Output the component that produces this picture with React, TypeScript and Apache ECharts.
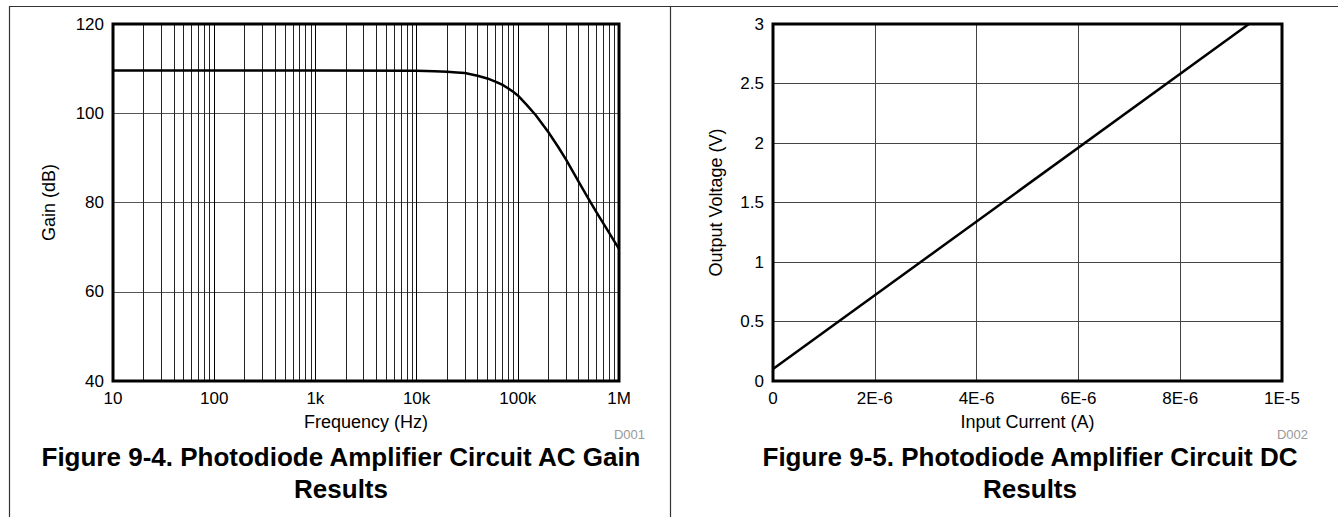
import React, { useEffect, useRef } from "react";
import * as echarts from "echarts";

// AC gain (Figure 9-4)
const freqHz = [10, 100, 1000, 10000, 15000, 20000, 25000, 30000, 40000, 50000, 60000, 70000, 80000, 90000, 100000, 120000, 150000, 200000, 250000, 300000, 400000, 500000, 600000, 700000, 800000, 900000, 1000000];
const gainDb = [109.6, 109.6, 109.6, 109.5, 109.4, 109.3, 109.15, 109.0, 108.4, 107.8, 107.1, 106.4, 105.6, 104.8, 104.0, 102.1, 99.6, 95.8, 92.5, 89.6, 84.6, 80.8, 77.8, 75.3, 73.2, 71.3, 69.6];
const freqTickLabels: Record<string, string> = { "10": "10", "100": "100", "1000": "1k", "10000": "10k", "100000": "100k", "1000000": "1M" };

// DC transfer (Figure 9-5)
const inputCurrentA = [0, 9.35e-6];
const outputVoltageV = [0.1, 3.0];
const currentTickLabels = ["0", "2E-6", "4E-6", "6E-6", "8E-6", "1E-5"];

const captionLeft = ["Figure 9-4. Photodiode Amplifier Circuit AC Gain", "Results"];
const captionRight = ["Figure 9-5. Photodiode Amplifier Circuit DC", "Results"];

const FONT = "'Liberation Sans', Arial, Helvetica, sans-serif";

export default function App() {
  const ref = useRef<HTMLDivElement>(null);

  useEffect(() => {
    document.body.style.margin = "0";
    const chart = echarts.init(ref.current!, null, { renderer: "svg" });

    const minorGridHz: number[] = [];
    for (let d = 10; d < 1000000; d *= 10) {
      for (let m = 2; m <= 9; m++) minorGridHz.push(d * m);
    }

    const axisLabelStyle = { color: "#000", fontSize: 17, fontFamily: FONT };
    const nameStyle = { color: "#000", fontSize: 18, fontFamily: FONT };

    chart.setOption({
      animation: false,
      backgroundColor: "#fff",
      textStyle: { fontFamily: FONT },
      grid: [
        { left: 113, top: 24, width: 506, height: 357, show: true, borderColor: "#000", borderWidth: 3, backgroundColor: "transparent", z: 10 },
        { left: 773, top: 24, width: 509, height: 357, show: true, borderColor: "#000", borderWidth: 3, backgroundColor: "transparent", z: 10 },
      ],
      xAxis: [
        {
          gridIndex: 0,
          type: "log",
          logBase: 10,
          min: 10,
          max: 1000000,
          name: "Frequency (Hz)",
          nameLocation: "middle",
          nameGap: 32,
          nameTextStyle: nameStyle,
          axisLine: { show: false },
          axisTick: { show: false },
          axisLabel: { ...axisLabelStyle, margin: 9, formatter: (v: number) => freqTickLabels[String(Math.round(v))] ?? "" },
          splitLine: { show: true, lineStyle: { color: "#000", width: 1 } },
        },
        {
          gridIndex: 1,
          type: "value",
          min: 0,
          max: 1e-5,
          interval: 2e-6,
          name: "Input Current (A)",
          nameLocation: "middle",
          nameGap: 32,
          nameTextStyle: nameStyle,
          axisLine: { show: false },
          axisTick: { show: false },
          axisLabel: { ...axisLabelStyle, margin: 9, formatter: (_v: number, i: number) => currentTickLabels[i] ?? "" },
          splitLine: { show: true, lineStyle: { color: "#444", width: 1 } },
        },
      ],
      yAxis: [
        {
          gridIndex: 0,
          type: "value",
          min: 40,
          max: 120,
          interval: 20,
          name: "Gain (dB)",
          nameLocation: "middle",
          nameGap: 55,
          nameTextStyle: nameStyle,
          axisLine: { show: false },
          axisTick: { show: false },
          axisLabel: { ...axisLabelStyle, margin: 9 },
          splitLine: { show: true, lineStyle: { color: "#555", width: 1 } },
        },
        {
          gridIndex: 1,
          type: "value",
          min: 0,
          max: 3,
          interval: 0.5,
          name: "Output Voltage (V)",
          nameLocation: "middle",
          nameGap: 48,
          nameTextStyle: nameStyle,
          axisLine: { show: false },
          axisTick: { show: false },
          axisLabel: { ...axisLabelStyle, margin: 9 },
          splitLine: { show: true, lineStyle: { color: "#444", width: 1 } },
        },
      ],
      series: [
        {
          name: "minor grid",
          type: "line",
          xAxisIndex: 0,
          yAxisIndex: 0,
          data: [],
          silent: true,
          z: 1,
          markLine: {
            silent: true,
            symbol: ["none", "none"],
            label: { show: false },
            lineStyle: { color: "#222", width: 1, type: "solid" },
            data: minorGridHz.map((v) => ({ xAxis: v })),
          },
        },
        {
          name: "Gain",
          type: "line",
          xAxisIndex: 0,
          yAxisIndex: 0,
          data: freqHz.map((f, i) => [f, gainDb[i]]),
          showSymbol: false,
          z: 5,
          lineStyle: { color: "#000", width: 2.5, join: "round" },
        },
        {
          name: "Output",
          type: "line",
          xAxisIndex: 1,
          yAxisIndex: 1,
          data: inputCurrentA.map((x, i) => [x, outputVoltageV[i]]),
          showSymbol: false,
          z: 5,
          lineStyle: { color: "#000", width: 2.5 },
        },
      ],
      graphic: [
        { type: "line", shape: { x1: 9, y1: 6.5, x2: 1338, y2: 6.5 }, style: { stroke: "#333", lineWidth: 1.2 } },
        { type: "line", shape: { x1: 9.5, y1: 6, x2: 9.5, y2: 517 }, style: { stroke: "#333", lineWidth: 1.2 } },
        { type: "line", shape: { x1: 670.5, y1: 6, x2: 670.5, y2: 517 }, style: { stroke: "#333", lineWidth: 1.2 } },
        { type: "text", x: 645, y: 434, style: { text: "D001", fill: "#999", font: `13px ${FONT}`, textAlign: "right", textVerticalAlign: "middle" } },
        { type: "text", x: 1308, y: 434, style: { text: "D002", fill: "#999", font: `13px ${FONT}`, textAlign: "right", textVerticalAlign: "middle" } },
        { type: "text", x: 341, y: 457, style: { text: captionLeft[0], fill: "#000", font: `bold 26px ${FONT}`, textAlign: "center", textVerticalAlign: "middle" } },
        { type: "text", x: 341, y: 489, style: { text: captionLeft[1], fill: "#000", font: `bold 26px ${FONT}`, textAlign: "center", textVerticalAlign: "middle" } },
        { type: "text", x: 1030, y: 457, style: { text: captionRight[0], fill: "#000", font: `bold 26px ${FONT}`, textAlign: "center", textVerticalAlign: "middle" } },
        { type: "text", x: 1030, y: 489, style: { text: captionRight[1], fill: "#000", font: `bold 26px ${FONT}`, textAlign: "center", textVerticalAlign: "middle" } },
      ],
    });

    return () => chart.dispose();
  }, []);

  return <div ref={ref} style={{ width: 1338, height: 517 }} />;
}
